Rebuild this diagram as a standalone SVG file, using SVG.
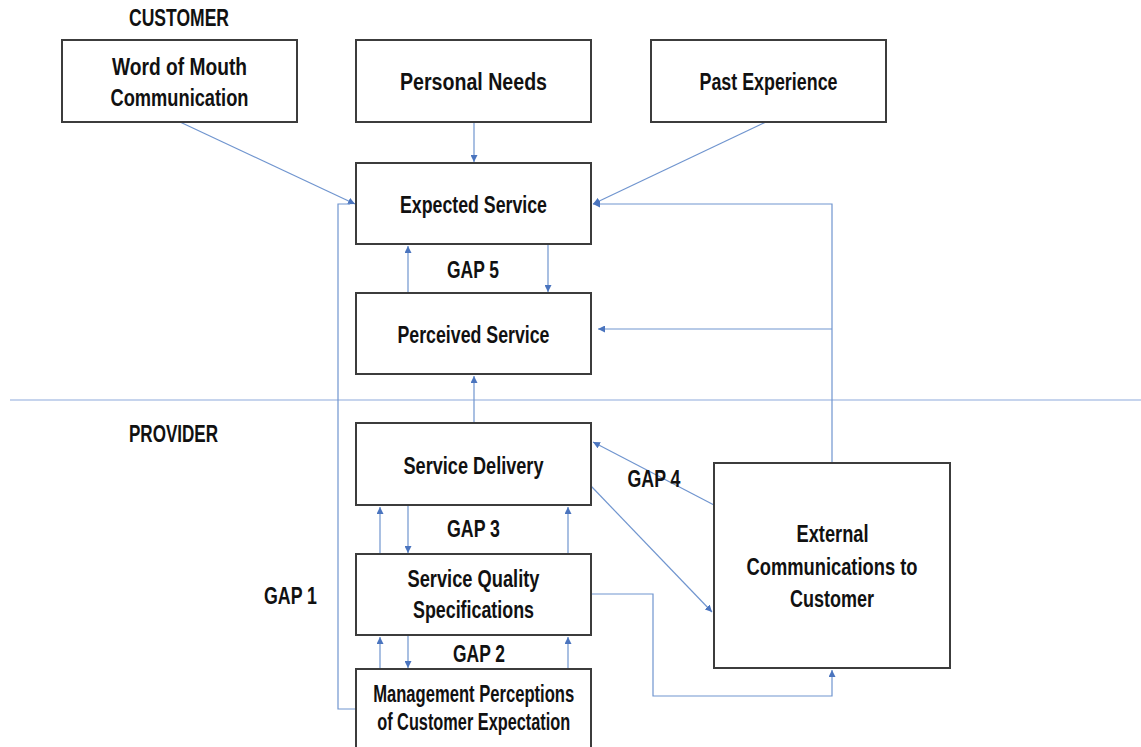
<svg xmlns="http://www.w3.org/2000/svg" width="1141" height="747" viewBox="0 0 1141 747">
<style>
.box{fill:#fff;stroke:#3c3c3c;stroke-width:2}
.t{font-family:"Liberation Sans",Arial,sans-serif;font-weight:bold;font-size:23px;fill:#111;text-anchor:middle}
.l{text-anchor:start}
.c{fill:none;stroke:#7095cf;stroke-width:1.2}
.div{stroke:#8eaadb;stroke-width:1.2}
</style>
<defs>
<marker id="ah" viewBox="0 0 10 10" refX="10" refY="5" markerWidth="7" markerHeight="7" markerUnits="userSpaceOnUse" orient="auto">
<path d="M0,0 L10,5 L0,10 z" fill="#4a74be"/>
</marker>
</defs>
<rect width="1141" height="747" fill="#fff"/>
<line class="div" x1="10" y1="400" x2="1141" y2="400"/>
<text class="t l" x="129" y="26" textLength="100" lengthAdjust="spacingAndGlyphs">CUSTOMER</text>
<text class="t l" x="129" y="442" textLength="89" lengthAdjust="spacingAndGlyphs">PROVIDER</text>

<g id="connectors">
<line class="c" x1="180" y1="122" x2="355" y2="204" marker-end="url(#ah)"/>
<line class="c" x1="474" y1="122" x2="474" y2="162" marker-end="url(#ah)"/>
<line class="c" x1="766" y1="122" x2="593" y2="204" marker-end="url(#ah)"/>
<path class="c" d="M832,463 V204 H593" marker-end="url(#ah)"/>
<path class="c" d="M832,329 H598" marker-end="url(#ah)"/>
<line class="c" x1="408" y1="293" x2="408" y2="246" marker-end="url(#ah)"/>
<line class="c" x1="548" y1="244" x2="548" y2="292" marker-end="url(#ah)"/>
<line class="c" x1="474" y1="423" x2="474" y2="376" marker-end="url(#ah)"/>
<line class="c" x1="380" y1="554" x2="380" y2="507" marker-end="url(#ah)"/>
<line class="c" x1="408" y1="505" x2="408" y2="553" marker-end="url(#ah)"/>
<line class="c" x1="568" y1="554" x2="568" y2="507" marker-end="url(#ah)"/>
<line class="c" x1="380" y1="669" x2="380" y2="637" marker-end="url(#ah)"/>
<line class="c" x1="408" y1="635" x2="408" y2="668" marker-end="url(#ah)"/>
<line class="c" x1="568" y1="669" x2="568" y2="637" marker-end="url(#ah)"/>
<line class="c" x1="714" y1="505" x2="593" y2="442" marker-end="url(#ah)"/>
<line class="c" x1="591" y1="486" x2="712" y2="612" marker-end="url(#ah)"/>
<path class="c" d="M591,594 H653 V696 H832 V670" marker-end="url(#ah)"/>
<path class="c" d="M356,709 H338 V204 H350"/>
</g>

<g id="word-of-mouth">
<rect class="box" x="62" y="40" width="235" height="82"/>
<text class="t" x="179.5" y="75" textLength="135" lengthAdjust="spacingAndGlyphs">Word of Mouth</text>
<text class="t" x="179.5" y="106" textLength="138" lengthAdjust="spacingAndGlyphs">Communication</text>
</g>
<g id="personal-needs">
<rect class="box" x="356" y="40" width="235" height="82"/>
<text class="t" x="473.5" y="90" textLength="147" lengthAdjust="spacingAndGlyphs">Personal Needs</text>
</g>
<g id="past-experience">
<rect class="box" x="651" y="40" width="235" height="82"/>
<text class="t" x="768.5" y="90" textLength="138" lengthAdjust="spacingAndGlyphs">Past Experience</text>
</g>
<g id="expected-service">
<rect class="box" x="356" y="163" width="235" height="81"/>
<text class="t" x="473.5" y="213" textLength="147" lengthAdjust="spacingAndGlyphs">Expected Service</text>
</g>
<g id="gap5">
<text class="t" x="473" y="278" textLength="52" lengthAdjust="spacingAndGlyphs">GAP 5</text>
</g>
<g id="perceived-service">
<rect class="box" x="356" y="293" width="235" height="81"/>
<text class="t" x="473.5" y="343" textLength="152" lengthAdjust="spacingAndGlyphs">Perceived Service</text>
</g>
<g id="service-delivery">
<rect class="box" x="356" y="423" width="235" height="82"/>
<text class="t" x="473.5" y="474" textLength="140" lengthAdjust="spacingAndGlyphs">Service Delivery</text>
</g>
<g id="gap3">
<text class="t" x="473.5" y="537" textLength="53" lengthAdjust="spacingAndGlyphs">GAP 3</text>
</g>
<g id="service-quality">
<rect class="box" x="356" y="554" width="235" height="81"/>
<text class="t" x="473.5" y="587" textLength="132" lengthAdjust="spacingAndGlyphs">Service Quality</text>
<text class="t" x="473.5" y="618" textLength="121" lengthAdjust="spacingAndGlyphs">Specifications</text>
</g>
<g id="gap2">
<text class="t" x="479" y="662" textLength="52" lengthAdjust="spacingAndGlyphs">GAP 2</text>
</g>
<g id="management">
<rect class="box" x="356" y="669" width="235" height="100"/>
<text class="t" x="473.7" y="702" textLength="201" lengthAdjust="spacingAndGlyphs">Management Perceptions</text>
<text class="t" x="473.7" y="730" textLength="193" lengthAdjust="spacingAndGlyphs">of Customer Expectation</text>
</g>
<g id="gap4">
<text class="t" x="654" y="487" textLength="53" lengthAdjust="spacingAndGlyphs">GAP 4</text>
</g>
<g id="gap1">
<text class="t" x="290.5" y="604" textLength="53" lengthAdjust="spacingAndGlyphs">GAP 1</text>
</g>
<g id="external">
<rect class="box" x="714" y="463" width="236" height="205"/>
<text class="t" x="832.5" y="542" textLength="72" lengthAdjust="spacingAndGlyphs">External</text>
<text class="t" x="832" y="575" textLength="171" lengthAdjust="spacingAndGlyphs">Communications to</text>
<text class="t" x="832" y="607" textLength="84" lengthAdjust="spacingAndGlyphs">Customer</text>
</g>
</svg>
